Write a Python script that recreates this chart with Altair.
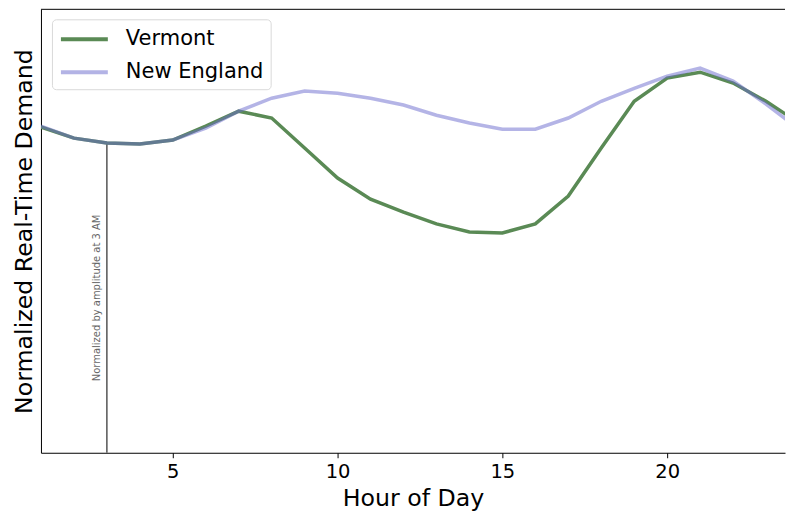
import altair as alt
import pandas as pd

hours = list(range(1, 25))
vermont = [1.052, 1.016, 1.000, 0.997, 1.010, 1.055, 1.103, 1.081, 0.984, 0.887,
           0.819, 0.777, 0.739, 0.713, 0.710, 0.739, 0.829, 0.984, 1.135, 1.210,
           1.229, 1.194, 1.135, 1.065]
new_england = [1.055, 1.016, 1.000, 0.997, 1.010, 1.048, 1.103, 1.145, 1.168, 1.161,
               1.145, 1.123, 1.090, 1.065, 1.045, 1.045, 1.081, 1.135, 1.177, 1.216,
               1.242, 1.200, 1.126, 1.045]
series_names = ["Vermont", "New England"]
series_colors = ["#5a8a55", "#6a6acd"]
series_opacity = [1.0, 0.5]

ref_hour = 3
ref_value = 1.0
note_text = "Normalized by amplitude at 3 AM"
note_hour = 2.7
note_value = 0.5

W, H = 745, 444
FONT = "DejaVu Sans"

rows = []
for name, vals in zip(series_names, [vermont, new_england]):
    for h, v in zip(hours, vals):
        rows.append({"hour": h, "value": v, "series": name})
df = pd.DataFrame(rows)

xscale = alt.Scale(domain=[1, 1 + W / 33.0], nice=False, zero=False)
yscale = alt.Scale(domain=[0, 1.432], nice=False, zero=False)

color = alt.Color("series:N", scale=alt.Scale(domain=series_names, range=series_colors),
                  legend=alt.Legend(title=None))
opacity = alt.Opacity("series:N", scale=alt.Scale(domain=series_names, range=series_opacity),
                      legend=alt.Legend(title=None))

def line_layer(name):
    return alt.Chart(df).transform_filter(alt.datum.series == name).mark_line(
        strokeWidth=3.5, clip=True
    ).encode(
        x=alt.X("hour:Q", scale=xscale,
                axis=alt.Axis(values=[5, 10, 15, 20], title="Hour of Day", grid=False,
                              labelFontSize=19.5, titleFontSize=23.7, tickSize=5,
                              labelPadding=5, titlePadding=5, domainColor="#000",
                              tickColor="#000", labelColor="#000", titleColor="#000",
                              titleFontWeight="normal", labelFont=FONT, titleFont=FONT)),
        y=alt.Y("value:Q", scale=yscale,
                axis=alt.Axis(title="Normalized Real-Time Demand", labels=False, ticks=False,
                              grid=False, titleFontSize=23.7, titlePadding=4,
                              domainColor="#000", titleColor="#000",
                              titleFontWeight="normal", titleFont=FONT)),
        color=color,
        opacity=opacity,
    )

ref_df = pd.DataFrame({"hour": [ref_hour], "v0": [0.0], "v1": [ref_value]})
ref_rule = alt.Chart(ref_df).mark_rule(color="#555555", strokeWidth=1.5).encode(
    x=alt.X("hour:Q", scale=xscale),
    y=alt.Y("v0:Q", scale=yscale),
    y2="v1:Q",
)

note_df = pd.DataFrame({"hour": [note_hour], "value": [note_value], "text": [note_text]})
note = alt.Chart(note_df).mark_text(angle=270, fontSize=10, color="#666666",
                                    align="center", baseline="middle", font=FONT).encode(
    x=alt.X("hour:Q", scale=xscale),
    y=alt.Y("value:Q", scale=yscale),
    text="text:N",
)

top_border = alt.Chart(ref_df).mark_rule(color="#000", strokeWidth=1).encode(
    x=alt.value(0), x2=alt.value(W), y=alt.value(0)
)

chart = alt.layer(
    ref_rule, line_layer("Vermont"), line_layer("New England"), note, top_border
).properties(
    width=W, height=H,
    padding={"left": 5, "top": 0, "right": 0, "bottom": 0},
).configure_view(
    stroke=None
).configure_legend(
    orient="none", legendX=11, legendY=10,
    symbolType="M-1,0H3.27", symbolSize=484, symbolStrokeWidth=4,
    labelFontSize=21, labelFont=FONT, labelColor="#000", labelOffset=41,
    padding=7, rowPadding=10, strokeColor="#d9d9d9", cornerRadius=4,
    fillColor="white", labelLimit=400,
)

chart.save("out.html", embed_options={"renderer": "svg", "actions": False})
